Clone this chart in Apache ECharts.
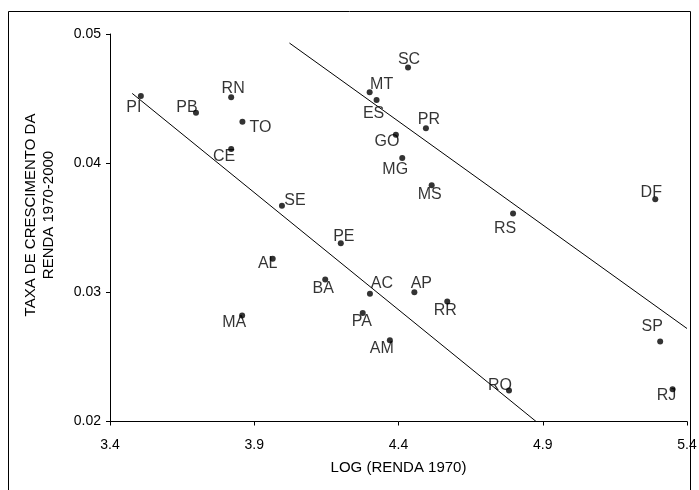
<!DOCTYPE html>
<html>
<head>
<meta charset="utf-8">
<script src="https://cdn.jsdelivr.net/npm/echarts@6/dist/echarts.min.js"></script>
<style>html,body{margin:0;padding:0;background:#fff}#c{width:699px;height:490px}</style>
</head>
<body>
<div id="c"></div>
<script>
// Data
const states = ['PI','PB','RN','TO','CE','SE','AL','BA','MA','PE','SC','MT','ES','PR','GO','MG','MS','RS','AC','AP','RR','PA','AM','RO','DF','SP','RJ'];
const logRenda1970 = [3.507,3.698,3.820,3.859,3.820,3.996,3.964,4.146,3.858,4.200,4.433,4.300,4.324,4.495,4.391,4.413,4.515,4.797,4.301,4.455,4.569,4.276,4.370,4.783,5.290,5.307,5.350];
const taxaCrescimento = [0.0452,0.0439,0.0451,0.0432,0.0411,0.0367,0.0326,0.0310,0.0282,0.0338,0.0474,0.0455,0.0449,0.0427,0.0422,0.0404,0.0383,0.0361,0.0299,0.0300,0.0293,0.0284,0.0263,0.0224,0.0372,0.0262,0.0225];
const fitLowX = [3.477, 4.877];
const fitLowY = [0.0454, 0.0200];
const fitHighX = [4.022, 5.400];
const fitHighY = [0.0493, 0.0272];
const xTicks = [3.4, 3.9, 4.4, 4.9, 5.4];
const yTicks = [0.02, 0.03, 0.04, 0.05];

// Label placement (style): offset of label centre from point, px
const labelOffset = {
  PI:[-7,12], PB:[-9,-5], RN:[2,-9], TO:[18,6], CE:[-7,8], SE:[13,-5], AL:[-5,5], BA:[-2,9],
  MA:[-8,7], PE:[3,-7], SC:[1,-8], MT:[12,-8], ES:[-3,14], PR:[3,-9], GO:[-9,7], MG:[-7,12],
  MS:[-2,9], RS:[-8,15], AC:[12,-10], AP:[7,-9], RR:[-2,9], PA:[-1,9], AM:[-8,8], RO:[-9,-5],
  DF:[-4,-7], SP:[-8,-15], RJ:[-6,6]
};

const FONT = '"Liberation Sans", Arial, sans-serif';
const chart = echarts.init(document.getElementById('c'), null, {renderer: 'canvas'});

const pts = states.map((s, i) => ({
  value: [logRenda1970[i], taxaCrescimento[i]],
  name: s,
  label: {offset: labelOffset[s]}
}));

chart.setOption({
  animation: false,
  backgroundColor: '#fff',
  textStyle: {fontFamily: FONT},
  grid: {left: 110, right: 12, top: 34, bottom: 68.5, containLabel: false, outerBoundsMode: 'none'},
  xAxis: {
    type: 'value', min: xTicks[0], max: xTicks[xTicks.length - 1], interval: 0.5,
    axisLine: {show: true, onZero: false, lineStyle: {color: '#000', width: 1}},
    axisTick: {show: true, inside: false, length: 4, lineStyle: {color: '#000'}},
    axisLabel: {color: '#000', fontSize: 14, fontFamily: FONT, margin: 17, formatter: v => v.toFixed(1)},
    splitLine: {show: false}
  },
  yAxis: {
    type: 'value', min: yTicks[0], max: yTicks[yTicks.length - 1], interval: 0.01,
    axisLine: {show: true, onZero: false, lineStyle: {color: '#000', width: 1}},
    axisTick: {show: true, inside: false, length: 4, lineStyle: {color: '#000'}},
    axisLabel: {color: '#000', fontSize: 14, fontFamily: FONT, margin: 9, formatter: v => v.toFixed(2)},
    splitLine: {show: false}
  },
  graphic: [
    {type: 'rect', silent: true, z: -1, shape: {x: 8.5, y: 11.5, width: 682, height: 500},
     style: {fill: 'none', stroke: '#000', lineWidth: 1}},
    {type: 'text', x: 398.5, y: 468, silent: true,
     style: {text: 'LOG (RENDA 1970)', fill: '#000', font: '15px ' + FONT, textAlign: 'center', textVerticalAlign: 'middle'}},
    {type: 'text', x: 40, y: 215, rotation: Math.PI / 2, silent: true,
     style: {text: 'TAXA DE CRESCIMENTO DA\nRENDA 1970-2000', fill: '#000', font: '15px ' + FONT, lineHeight: 18,
             textAlign: 'center', textVerticalAlign: 'middle'}}
  ],
  series: [
    {
      type: 'line', data: fitLowX.map((x, i) => [x, fitLowY[i]]), symbol: 'none',
      lineStyle: {color: '#000', width: 1}, silent: true, z: 2
    },
    {
      type: 'line', data: fitHighX.map((x, i) => [x, fitHighY[i]]), symbol: 'none',
      lineStyle: {color: '#000', width: 1}, silent: true, z: 2
    },
    {
      type: 'scatter', data: pts, symbol: 'circle', symbolSize: 6,
      itemStyle: {color: '#000'}, z: 3,
      label: {show: true, position: 'inside', formatter: p => p.name, color: '#000', fontSize: 16, fontFamily: FONT}
    }
  ]
});
</script>
</body>
</html>
